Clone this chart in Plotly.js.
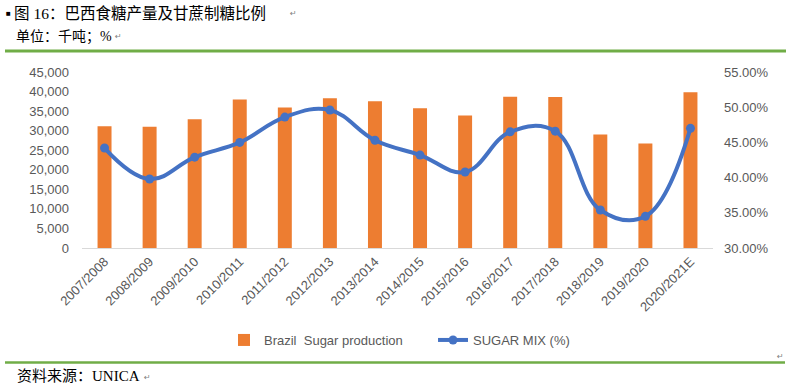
<!DOCTYPE html>
<html>
<head>
<meta charset="utf-8">
<script src="https://cdn.plot.ly/plotly-3.0.1.min.js"></script>
<style>html,body{margin:0;padding:0;background:#fff;}#chart{width:790px;height:389px;}</style>
</head>
<body>
<div id="chart"></div>
<script>
var categories = ["2007/2008","2008/2009","2009/2010","2010/2011","2011/2012","2012/2013","2013/2014","2014/2015","2015/2016","2016/2017","2017/2018","2018/2019","2019/2020","2020/2021E"];
var sugarProduction = [31100, 31000, 32900, 38000, 35900, 38300, 37500, 35700, 33900, 38700, 38600, 29000, 26700, 39800];
var sugarMix = [0.442, 0.398, 0.429, 0.450, 0.486, 0.496, 0.453, 0.432, 0.408, 0.465, 0.466, 0.354, 0.345, 0.470];
var leftTicks = [0, 5000, 10000, 15000, 20000, 25000, 30000, 35000, 40000, 45000];
var rightTicks = [0.30, 0.35, 0.40, 0.45, 0.50, 0.55];

var L = 82, R = 77, T = 72, B = 141, W = 790, H = 389;
var PW = W - L - R, PH = H - T - B;
function px(x){ return (x - L) / PW; }
function py(y){ return (H - B - y) / PH; }

var tickFont = {family: "Liberation Sans, Arial, sans-serif", size: 13, color: "#595959"};
var docFont = "Liberation Serif, 'Noto Sans CJK SC', serif";

var traces = [
  {
    type: "bar", name: "Brazil\u00a0 Sugar production\u00a0\u00a0\u00a0\u00a0\u00a0\u00a0\u00a0",
    x: categories, y: sugarProduction,
    marker: {color: "#ED7D31"},
    yaxis: "y", hoverinfo: "skip"
  },
  {
    type: "scatter", mode: "lines+markers", name: "SUGAR MIX (%)",
    x: categories, y: sugarMix, yaxis: "y2",
    line: {color: "#4472C4", width: 4, shape: "spline", smoothing: 1.15},
    marker: {color: "#4472C4", size: 9},
    hoverinfo: "skip"
  }
];

var layout = {
  width: W, height: H,
  margin: {l: L, r: R, t: T, b: B, pad: 0},
  paper_bgcolor: "#fff", plot_bgcolor: "#fff",
  showlegend: true,
  bargap: 0.69,
  font: tickFont,
  xaxis: {
    type: "category", range: [-0.5, categories.length - 0.5], autorange: false,
    tickangle: -45, tickfont: tickFont,
    showline: true, linecolor: "#D9D9D9", linewidth: 1,
    showgrid: false, ticks: "", zeroline: false, fixedrange: true
  },
  yaxis: {
    range: [0, 45000], tickvals: leftTicks, tickformat: ",d",
    tickfont: tickFont, showgrid: false, zeroline: false, showline: false,
    ticks: "", ticklabelstandoff: 12, fixedrange: true
  },
  yaxis2: {
    overlaying: "y", side: "right",
    range: [0.30, 0.55], tickvals: rightTicks, tickformat: ".2%",
    tickfont: tickFont, showgrid: false, zeroline: false, showline: false,
    ticks: "", ticklabelstandoff: 10, fixedrange: true
  },
  legend: {
    orientation: "h", x: px(224), xanchor: "left", y: py(340), yanchor: "middle",
    font: {family: "Liberation Sans, Arial, sans-serif", size: 13, color: "#595959"},
    bgcolor: "rgba(0,0,0,0)", itemwidth: 30
  },
  shapes: [
    {type: "line", xref: "paper", yref: "paper", x0: px(5), x1: px(786), y0: py(51), y1: py(51), line: {color: "#70AD47", width: 3}},
    {type: "line", xref: "paper", yref: "paper", x0: px(5), x1: px(785), y0: py(362.5), y1: py(362.5), line: {color: "#70AD47", width: 2.5}}
  ],
  annotations: [
    {xref: "paper", yref: "paper", x: px(4), y: py(14), xanchor: "left", yanchor: "middle", showarrow: false, text: "■", font: {family: docFont, size: 8, color: "#000"}},
    {xref: "paper", yref: "paper", x: px(12), y: py(13), xanchor: "left", yanchor: "middle", showarrow: false, text: "图 16：巴西食糖产量及甘蔗制糖比例", font: {family: docFont, size: 15.5, color: "#000"}},
    {xref: "paper", yref: "paper", x: px(288), y: py(13), xanchor: "left", yanchor: "middle", showarrow: false, text: "↵", font: {family: "DejaVu Sans", size: 8, color: "#808080"}},
    {xref: "paper", yref: "paper", x: px(14), y: py(37), xanchor: "left", yanchor: "middle", showarrow: false, text: "单位：千吨；%", font: {family: docFont, size: 14, color: "#000"}},
    {xref: "paper", yref: "paper", x: px(113), y: py(37), xanchor: "left", yanchor: "middle", showarrow: false, text: "↵", font: {family: "DejaVu Sans", size: 8, color: "#808080"}},
    {xref: "paper", yref: "paper", x: px(15), y: py(376), xanchor: "left", yanchor: "middle", showarrow: false, text: "资料来源：UNICA", font: {family: docFont, size: 15, color: "#000"}},
    {xref: "paper", yref: "paper", x: px(142), y: py(377), xanchor: "left", yanchor: "middle", showarrow: false, text: "↵", font: {family: "DejaVu Sans", size: 8, color: "#808080"}},
    {xref: "paper", yref: "paper", x: px(775), y: py(356), xanchor: "left", yanchor: "middle", showarrow: false, text: "↵", font: {family: "DejaVu Sans", size: 8, color: "#808080"}}
  ]
};

Plotly.newPlot("chart", traces, layout, {displayModeBar: false, staticPlot: true});
</script>
</body>
</html>
